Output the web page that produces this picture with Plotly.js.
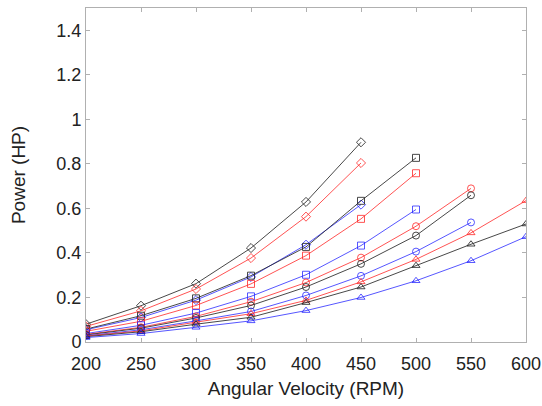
<!DOCTYPE html>
<html>
<head>
<meta charset="utf-8">
<script src="https://cdn.plot.ly/plotly-3.0.1.min.js"></script>
<style>html,body{margin:0;padding:0;background:#fff}#chart{width:542px;height:406px}</style>
</head>
<body>
<div id="chart"></div>
<script>
// Angular velocity (RPM)
const rpm = [200, 250, 300, 350, 400, 450, 500, 550, 600];

// Power (HP) per series
const blackDiamond = [0.080, 0.163, 0.262, 0.422, 0.629, 0.897];
const redDiamond   = [0.070, 0.140, 0.238, 0.377, 0.563, 0.804];
const blueDiamond  = [0.055, 0.110, 0.188, 0.292, 0.437, 0.617];
const blackSquare  = [0.058, 0.118, 0.196, 0.298, 0.427, 0.634, 0.827];
const redSquare    = [0.048, 0.093, 0.164, 0.261, 0.388, 0.553, 0.758];
const blueSquare   = [0.038, 0.075, 0.130, 0.205, 0.302, 0.433, 0.595];
const redCircle    = [0.034, 0.066, 0.115, 0.181, 0.267, 0.379, 0.520, 0.690];
const blackCircle  = [0.032, 0.062, 0.108, 0.164, 0.247, 0.351, 0.478, 0.659];
const blueCircle   = [0.028, 0.055, 0.095, 0.137, 0.209, 0.297, 0.406, 0.537];
const redTriangle  = [0.027, 0.050, 0.089, 0.127, 0.187, 0.270, 0.371, 0.490, 0.635];
const blackTriangle= [0.024, 0.046, 0.080, 0.111, 0.177, 0.247, 0.343, 0.439, 0.530];
const blueTriangle = [0.020, 0.038, 0.066, 0.095, 0.141, 0.200, 0.275, 0.365, 0.473];

const xTicks = [200, 250, 300, 350, 400, 450, 500, 550, 600];
const yTicks = [0, 0.2, 0.4, 0.6, 0.8, 1, 1.2, 1.4];

const colors = {black: 'rgba(40,40,40,0.85)', red: 'rgba(255,40,40,0.8)', blue: 'rgba(30,30,255,0.75)'};

const series = [
  [blackDiamond, 'black', 'diamond-open'],
  [redDiamond, 'red', 'diamond-open'],
  [blueDiamond, 'blue', 'diamond-open'],
  [blackSquare, 'black', 'square-open'],
  [redSquare, 'red', 'square-open'],
  [blueSquare, 'blue', 'square-open'],
  [redCircle, 'red', 'circle-open'],
  [blackCircle, 'black', 'circle-open'],
  [blueCircle, 'blue', 'circle-open'],
  [redTriangle, 'red', 'triangle-up-open'],
  [blackTriangle, 'black', 'triangle-up-open'],
  [blueTriangle, 'blue', 'triangle-up-open']
];

const traces = series.map(([vals, c, sym]) => ({
  x: rpm.slice(0, vals.length),
  y: vals,
  type: 'scatter',
  mode: 'lines+markers',
  line: {color: colors[c], width: 1},
  marker: {symbol: sym, size: 7, color: colors[c], line: {color: colors[c], width: 1}},
  showlegend: false
}));

const fontFam = 'Liberation Sans, Arial, sans-serif';
const axisCommon = {
  showgrid: false, zeroline: false, showline: true, mirror: 'ticks',
  linecolor: '#b0b0b0', linewidth: 1, ticks: 'inside', ticklen: 4, tickcolor: '#b0b0b0',
  tickfont: {family: fontFam, size: 18, color: '#222'}
};

const layout = {
  width: 542, height: 406,
  margin: {l: 86, r: 16, t: 8, b: 64},
  paper_bgcolor: '#fff', plot_bgcolor: '#fff',
  xaxis: Object.assign({}, axisCommon, {
    range: [200, 600], tickvals: xTicks, ticktext: xTicks.map(String),
    ticklabelstandoff: 5,
    title: {text: 'Angular Velocity (RPM)', font: {family: fontFam, size: 19, color: '#222'}, standoff: 9}
  }),
  yaxis: Object.assign({}, axisCommon, {
    range: [0, 1.5], tickvals: yTicks, ticktext: yTicks.map(String),
    title: {text: 'Power (HP)', font: {family: fontFam, size: 19, color: '#222'}, standoff: 25}
  })
};

Plotly.newPlot('chart', traces, layout, {staticPlot: true, displayModeBar: false});
</script>
</body>
</html>
